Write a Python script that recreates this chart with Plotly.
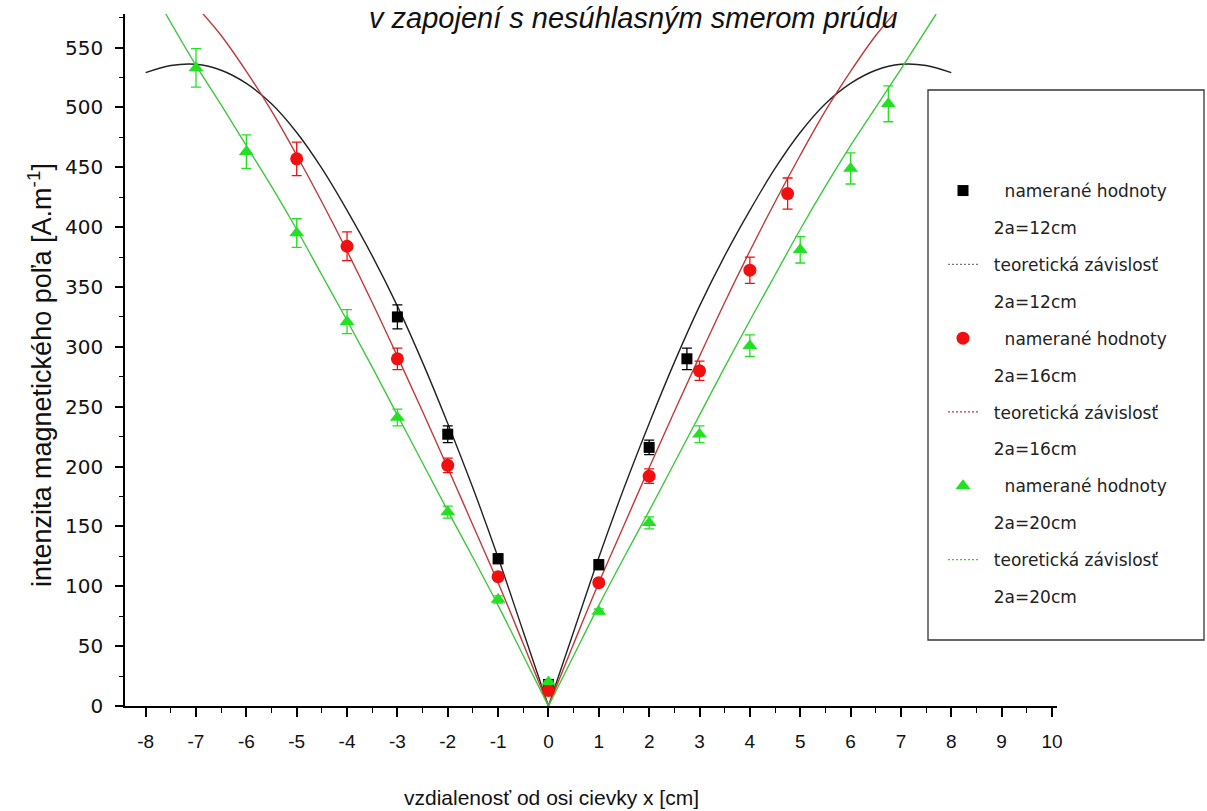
import plotly.graph_objects as go

# ---------------- data ----------------
# measured values, 2a = 12 cm
x_12 = [-3, -2, -1, 0, 1, 2, 2.75]
h_12 = [325, 227, 123, 18, 118, 216, 290]
e_12 = [10, 7, 4, 1, 4, 6, 9]

# measured values, 2a = 16 cm
x_16 = [-5, -4, -3, -2, -1, 0, 1, 2, 3, 4, 4.75]
h_16 = [457, 384, 290, 201, 108, 13, 103, 192, 280, 364, 428]
e_16 = [14, 12, 9, 6, 3, 1, 3, 6, 8, 11, 13]

# measured values, 2a = 20 cm
x_20 = [-7, -6, -5, -4, -3, -2, -1, 0, 1, 2, 3, 4, 5, 6, 6.75]
h_20 = [533, 463, 395, 321, 241, 162, 89, 20, 79, 153, 227, 301, 381, 449, 503]
e_20 = [16, 14, 12, 10, 7, 5, 3, 1, 2, 5, 7, 9, 11, 13, 15]

# theoretical curves
tx_12 = [-8, -7.5, -7, -6.5, -6, -5.5, -5, -4.5, -4, -3.5, -3, -2.5, -2, -1.5, -1, -0.5, 0,
         0.5, 1, 1.5, 2, 2.5, 3, 3.5, 4, 4.5, 5, 5.5, 6, 6.5, 7, 7.5, 8]
th_12 = [529, 535, 536, 531, 520, 503, 479, 449, 414, 376, 334, 287, 236, 182, 124, 62, 0,
         62, 124, 182, 236, 287, 334, 376, 414, 449, 479, 503, 520, 531, 536, 535, 529]

tx_16 = [-6.9, -6.5, -6, -5.5, -5, -4.5, -4, -3.5, -3, -2.5, -2, -1.5, -1, -0.5, 0,
         0.5, 1, 1.5, 2, 2.5, 3, 3.5, 4, 4.5, 5, 5.5, 6, 6.5, 6.9]
th_16 = [580, 560, 530, 497, 460, 421, 380, 337, 292, 246, 199, 151, 103, 52, 0,
         52, 103, 151, 199, 246, 292, 337, 380, 421, 460, 497, 530, 560, 580]

tx_20 = [-7.6, -7, -6.5, -6, -5.5, -5, -4.5, -4, -3.5, -3, -2.5, -2, -1.5, -1, -0.5, 0,
         0.5, 1, 1.5, 2, 2.5, 3, 3.5, 4, 4.5, 5, 5.5, 6, 6.5, 7, 7.7]
th_20 = [578, 535, 502, 468, 434, 398, 360, 322, 283, 243, 203, 163, 124, 84, 42, 0,
         42, 84, 124, 163, 203, 243, 283, 322, 360, 398, 434, 468, 500, 532, 578]

x_ticks = list(range(-8, 11))
y_ticks = list(range(0, 551, 50))

lbl_meas = "\u00a0\u00a0\u00a0\u00a0namerané hodnoty"
lbl_theo = "\u00a0\u00a0teoretická závislosť"
lbl_12 = "\u00a0\u00a02a=12cm"
lbl_16 = "\u00a0\u00a02a=16cm"
lbl_20 = "\u00a0\u00a02a=20cm"

# ---------------- styles ----------------
C_BLACK_M = "#000000"
C_RED_M = "#f01010"
C_GREEN_M = "#22e022"
C_BLACK_L = "#222222"
C_RED_L = "#c03a3a"
C_GREEN_L = "#3cc83c"

fig = go.Figure()


def add_branches(xs, ys, color):
    i0 = xs.index(0)
    for xb, yb in ((xs[:i0 + 1], ys[:i0 + 1]), (xs[i0:], ys[i0:])):
        fig.add_trace(go.Scatter(x=xb, y=yb, mode="lines",
                                 line=dict(color=color, width=1.4, shape="spline"),
                                 showlegend=False, hoverinfo="skip"))


add_branches(tx_12, th_12, C_BLACK_L)
add_branches(tx_16, th_16, C_RED_L)
add_branches(tx_20, th_20, C_GREEN_L)


def add_points(xs, ys, es, color, symbol, size, rank, name):
    fig.add_trace(go.Scatter(
        x=xs, y=ys, mode="markers", name=name,
        marker=dict(color=color, symbol=symbol, size=size, line=dict(width=0)),
        error_y=dict(type="data", array=es, visible=True, color=color,
                     thickness=1.3, width=5),
        legendgroup="g%d" % rank, legendrank=rank))


def add_label(text, rank):
    fig.add_trace(go.Scatter(
        x=[None], y=[None], mode="markers", name=text,
        marker=dict(color="rgba(0,0,0,0)", size=6),
        legendgroup="g%d" % rank, legendrank=rank))


def add_theo_legend(color, rank):
    fig.add_trace(go.Scatter(
        x=[None], y=[None], mode="lines", name=lbl_theo,
        line=dict(color=color, width=1.2, dash="2px,2px"),
        legendgroup="g%d" % rank, legendrank=rank))


add_points(x_12, h_12, e_12, C_BLACK_M, "square", 11, 1, lbl_meas)
add_label(lbl_12, 2)
add_theo_legend("#777777", 3)
add_label(lbl_12, 4)
add_points(x_16, h_16, e_16, C_RED_M, "circle", 13, 5, lbl_meas)
add_label(lbl_16, 6)
add_theo_legend(C_RED_L, 7)
add_label(lbl_16, 8)
add_points(x_20, h_20, e_20, C_GREEN_M, "triangle-up", 13, 9, lbl_meas)
add_label(lbl_20, 10)
add_theo_legend(C_GREEN_L, 11)
add_label(lbl_20, 12)

L, R, T, B = 125, 150, 14, 105
W, H = 1207, 811
pw, ph = W - L - R, H - T - B


def px2x(px):
    return (px - L) / pw


def py2y(py):
    return (H - B - py) / ph


fig.update_layout(
    width=W, height=H,
    margin=dict(l=L, r=R, t=T, b=B, pad=0),
    paper_bgcolor="white", plot_bgcolor="white",
    font=dict(family="Liberation Sans, Arial, sans-serif", color="#111111"),
    xaxis=dict(range=[-8.41, 10.1], tickmode="array", tickvals=x_ticks,
               ticktext=[str(v) for v in x_ticks],
               ticks="outside", ticklen=9, tickwidth=1.5, tickcolor="black",
               minor=dict(dtick=0.5, tick0=0, ticks="outside", ticklen=5,
                          tickwidth=1.3, tickcolor="black"),
               showline=True, linecolor="black", linewidth=1.5,
               showgrid=False, zeroline=False,
               tickfont=dict(family="Liberation Sans Narrow, Liberation Sans, Arial", size=19),
               ticklabelstandoff=8),
    yaxis=dict(range=[0, 578], tickmode="array", tickvals=y_ticks,
               ticktext=[str(v) for v in y_ticks],
               ticks="outside", ticklen=8, tickwidth=1.5, tickcolor="black",
               minor=dict(dtick=25, tick0=0, ticks="outside", ticklen=4,
                          tickwidth=1.3, tickcolor="black"),
               showline=True, linecolor="black", linewidth=1.5,
               showgrid=False, zeroline=False,
               tickfont=dict(family="DejaVu Sans, Liberation Sans", size=20),
               ticklabelstandoff=8),
    legend=dict(x=px2x(943), y=py2y(173), xanchor="left", yanchor="top",
                bgcolor="rgba(0,0,0,0)", borderwidth=0,
                font=dict(family="DejaVu Sans, Liberation Sans", size=17, color="#222222"),
                traceorder="grouped", tracegroupgap=11.8, valign="middle"),
    shapes=[dict(type="rect", xref="paper", yref="paper",
                 x0=px2x(928), x1=px2x(1204), y0=py2y(640), y1=py2y(90),
                 line=dict(color="#333333", width=1.3), fillcolor="white",
                 layer="above")],
    annotations=[
        dict(text="v zapojení s nesúhlasným smerom prúdu", xref="paper", yref="paper",
             x=px2x(633), y=1, yanchor="middle", xanchor="center", yshift=-4,
             showarrow=False,
             font=dict(family="Liberation Sans, Arial", size=29, color="#111111",
                       style="italic")),
        dict(text="vzdialenosť od osi cievky x [cm]", xref="paper", yref="paper",
             x=px2x(551), y=py2y(797), xanchor="center", yanchor="middle",
             showarrow=False, font=dict(size=21, color="#111111")),
        dict(text="intenzita magnetického poľa [A.m<sup>-1</sup>]", xref="paper",
             yref="paper", x=px2x(40), y=py2y(375), xanchor="center",
             yanchor="middle", textangle=-90, showarrow=False,
             font=dict(size=27, color="#111111")),
    ],
)

fig.write_html("out.html", config={"displayModeBar": False},
               post_script="document.body.style.margin='0px';")
